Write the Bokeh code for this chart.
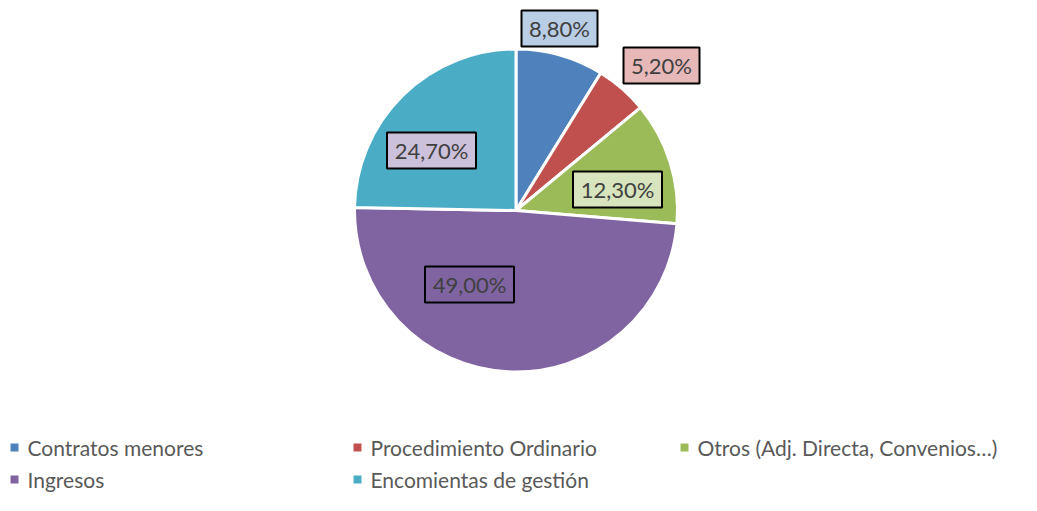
import numpy as np
from bokeh.plotting import figure
from bokeh.models import Range1d, ColumnDataSource
from bokeh.core.properties import value
from bokeh.embed import file_html
from bokeh.resources import INLINE

# ---- data ----
categories = ["Contratos menores", "Procedimiento Ordinario",
              "Otros (Adj. Directa, Convenios…)", "Ingresos", "Encomientas de gestión"]
shares = [8.8, 5.2, 12.3, 49.0, 24.7]
label_texts = ["8,80%", "5,20%", "12,30%", "49,00%", "24,70%"]

# ---- styles ----
colors = ["#4F81BD", "#C0504D", "#9BBB59", "#8064A2", "#4BACC6"]
label_fills = ["#B9CDE5", "#E6B9B8", "#D7E4BD", None, "#CCC1DA"]
# label box centres in picture pixels (x, y from top)
label_pos = [(559, 28), (661, 65), (617, 189), (469, 284), (431, 150)]
FONT = "Lato"

W, H = 1021, 495
p = figure(width=W, height=H, output_backend="svg", toolbar_location=None,
           x_range=Range1d(0, W), y_range=Range1d(0, H),
           min_border=0, outline_line_color=None)
p.axis.visible = False
p.grid.visible = False

def Y(y):  # picture y (top-down) -> data y
    return H - y

cx, cy, r = 515.5, Y(210), 161.5
vals = np.array(shares)
cum = np.concatenate([[0], np.cumsum(vals)]) / vals.sum()
start = np.pi / 2 - 2 * np.pi * cum[:-1]
end = np.pi / 2 - 2 * np.pi * cum[1:]

src = ColumnDataSource(dict(start=start, end=end, color=colors))
p.wedge(x=cx, y=cy, radius=r, start_angle="end", end_angle="start",
        fill_color="color", line_color="white", line_width=3, source=src)

# data labels
for txt, fill, (lx, ly) in zip(label_texts, label_fills, label_pos):
    w = 76 if len(txt) == 5 else 89
    p.rect(x=lx, y=Y(ly), width=w, height=36, fill_color=fill if fill else None,
           fill_alpha=1.0 if fill else 0.0, line_color="black", line_width=2)
    p.text(x=[lx], y=[Y(ly)], text=[txt], text_font=value(FONT), text_font_size="22px",
           text_color="#404040", text_align="center", text_baseline="middle")

# legend
leg_x = [14, 357, 684, 14, 357]
leg_y = [447, 447, 447, 479, 479]
for cat, col, lx, ly in zip(categories, colors, leg_x, leg_y):
    p.rect(x=lx, y=Y(ly), width=8, height=8, fill_color=col, line_color=None)
    p.text(x=[lx + 13], y=[Y(ly)], text=[cat], text_font=value(FONT), text_font_size="21px",
           text_color="#595959", text_align="left", text_baseline="middle")

open("out.html", "w").write(file_html(p, INLINE))
